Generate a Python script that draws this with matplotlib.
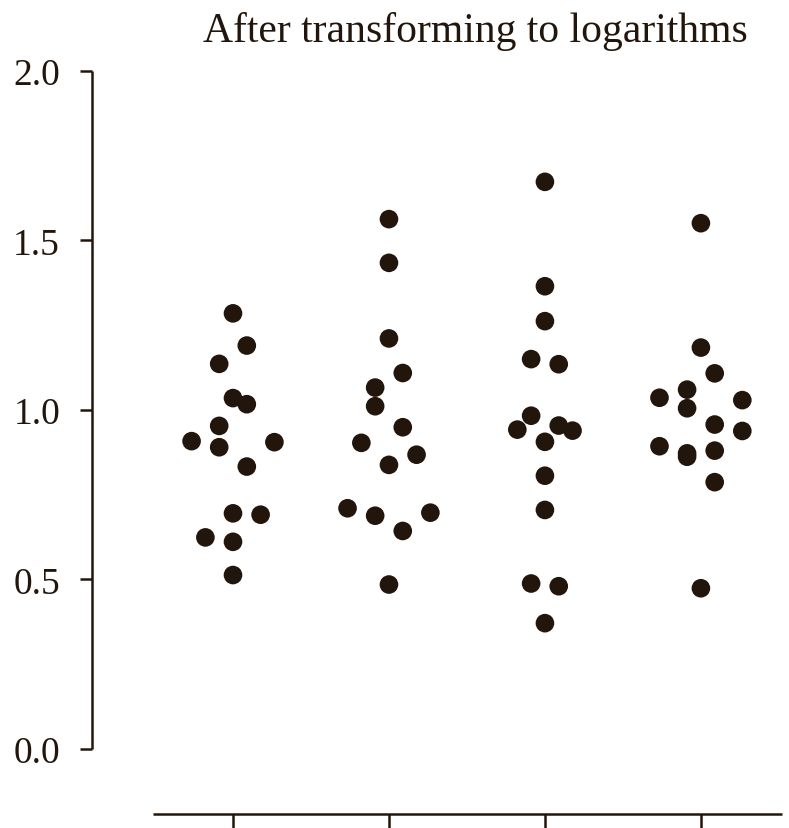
import numpy as np
import matplotlib
matplotlib.use("Agg")
import matplotlib.pyplot as plt

# values (log scale), one list per group
group1 = [1.285, 1.190, 1.136, 1.035, 1.017, 0.953, 0.908, 0.890, 0.905, 0.833,
          0.695, 0.691, 0.624, 0.611, 0.513]
group2 = [1.563, 1.434, 1.211, 1.109, 1.066, 1.011, 0.949, 0.903, 0.868, 0.838,
          0.710, 0.688, 0.697, 0.643, 0.485]
group3 = [1.673, 1.365, 1.262, 1.150, 1.135, 0.983, 0.942, 0.954, 0.939, 0.906,
          0.806, 0.705, 0.488, 0.480, 0.371]
group4 = [1.551, 1.184, 1.108, 1.060, 1.036, 1.029, 1.005, 0.957, 0.938, 0.893,
          0.872, 0.862, 0.880, 0.787, 0.474]
groups = [group1, group2, group3, group4]

# swarm column of each dot (in dot-widths, left negative)
cols1 = [0, 1, -1, 0, 1, -1, -3, -1, 3, 1, 0, 2, -2, 0, 0]
cols2 = [0, 0, 0, 1, -1, -1, 1, -2, 2, 0, -3, -1, 3, 1, 0]
cols3 = [0, 0, 0, -1, 1, -1, -2, 1, 2, 0, 0, 0, -1, 1, 0]
cols4 = [0, 0, 1, -1, -3, 3, -1, 1, 3, -3, -1, -1, 1, 1, 0]
swarm_cols = [cols1, cols2, cols3, cols4]

yticks = [0.0, 0.5, 1.0, 1.5, 2.0]
title = "After transforming to logarithms"

ink = "#22160c"
plt.rcParams["font.family"] = ["Liberation Serif", "DejaVu Serif"]

fig = plt.figure(figsize=(7.89, 8.29), dpi=100)
ax = fig.add_axes([92 / 789, 14 / 829, (782 - 92) / 789, (815 - 72) / 829])

step = 0.0885
for i, (vals, cols) in enumerate(zip(groups, swarm_cols)):
    xs = i + np.array(cols) * step
    ax.scatter(xs, vals, s=180, color=ink, edgecolors="none", zorder=3, clip_on=False)

ax.set_xlim(-0.904, 3.52)
ax.set_ylim(-0.192, 2.0)
ax.set_yticks(yticks)
ax.set_yticklabels(["%.1f" % t for t in yticks])
ax.set_xticks(range(len(groups)))
ax.set_xticklabels([])

for side in ["top", "right"]:
    ax.spines[side].set_visible(False)
ax.spines["left"].set_bounds(0, 2.0)
ax.spines["bottom"].set_bounds(-0.513, 3.52)
for side in ["left", "bottom"]:
    ax.spines[side].set_color(ink)
    ax.spines[side].set_linewidth(1.8)
    ax.spines[side].set_capstyle("butt")

ax.tick_params(axis="y", direction="out", length=9, width=1.8, color=ink,
               labelsize=27, labelcolor=ink, pad=14)
ax.tick_params(axis="x", direction="out", length=12, width=1.8, color=ink)

fig.text(0.602, 0.962, title, ha="center", va="center", fontsize=30, color=ink)

fig.savefig("out.png", dpi=100)
